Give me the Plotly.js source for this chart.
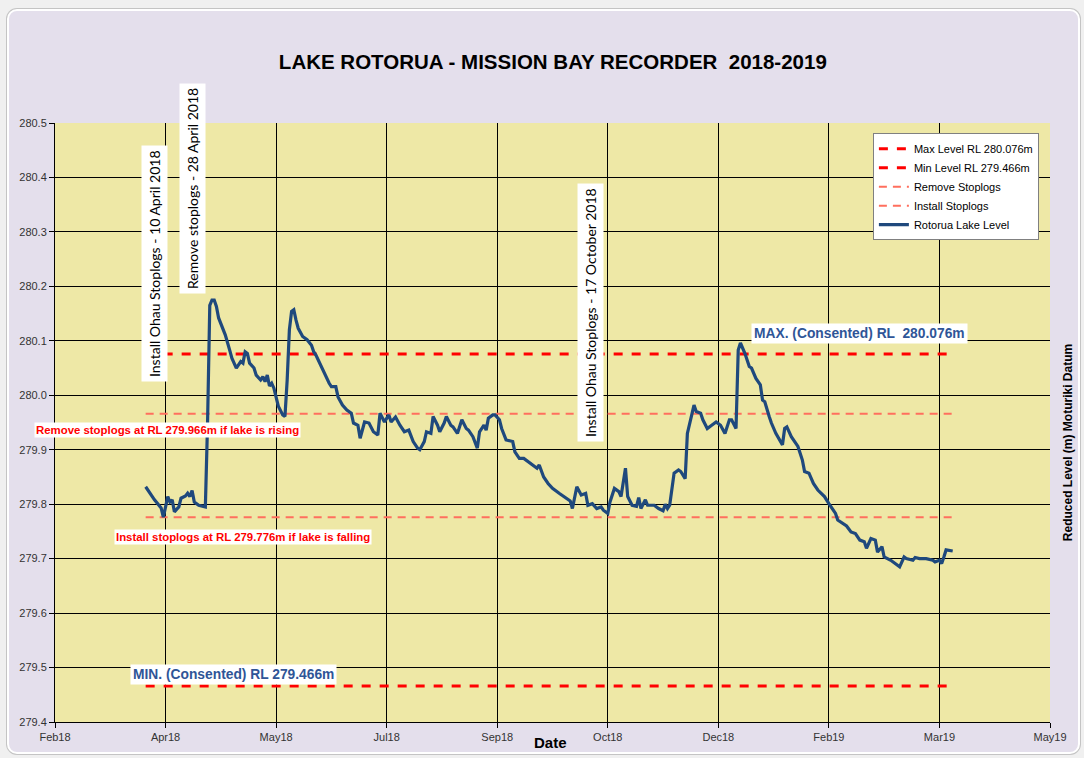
<!DOCTYPE html>
<html><head><meta charset="utf-8">
<script src="https://cdn.plot.ly/plotly-3.0.1.min.js"></script>
<style>
html,body{margin:0;padding:0;background:#F0F0F0;width:1084px;height:758px;overflow:hidden;}
#frame{position:absolute;left:7px;top:9px;width:1069px;height:741px;background:#E4DFEC;border:2px solid #FFFFFF;border-radius:10px;box-shadow:0 0 0 1px #C4C4C4;}
#chart{position:absolute;left:0;top:0;width:1084px;height:758px;}
</style></head><body>
<div id="frame"></div><div id="chart"></div>
<script>
// ---- data ----
const dates = [
'2018-04-02','2018-04-05','2018-04-06','2018-04-09','2018-04-10','2018-04-12','2018-04-13','2018-04-14','2018-04-15','2018-04-17',
'2018-04-18','2018-04-20','2018-04-21','2018-04-22','2018-04-23','2018-04-24','2018-04-26','2018-04-29','2018-04-30','2018-05-01',
'2018-05-02','2018-05-03','2018-05-04','2018-05-05','2018-05-07','2018-05-08','2018-05-10','2018-05-11','2018-05-13','2018-05-14',
'2018-05-15','2018-05-16','2018-05-17','2018-05-18','2018-05-19','2018-05-21','2018-05-22','2018-05-24','2018-05-25','2018-05-26',
'2018-05-27','2018-05-28','2018-05-29','2018-05-30','2018-05-31','2018-06-01','2018-06-03','2018-06-04','2018-06-05','2018-06-06',
'2018-06-07','2018-06-08','2018-06-09','2018-06-10','2018-06-12','2018-06-14','2018-06-16','2018-06-17','2018-06-18','2018-06-19',
'2018-06-22','2018-06-24','2018-06-25','2018-06-27','2018-06-28','2018-06-30','2018-07-02','2018-07-04','2018-07-05','2018-07-07',
'2018-07-08','2018-07-10','2018-07-12','2018-07-14','2018-07-16','2018-07-17','2018-07-19','2018-07-21','2018-07-22','2018-07-24',
'2018-07-26','2018-07-28','2018-07-30','2018-08-01','2018-08-03','2018-08-04','2018-08-06','2018-08-07','2018-08-09','2018-08-10',
'2018-08-12','2018-08-13','2018-08-15','2018-08-16','2018-08-18','2018-08-19','2018-08-21','2018-08-22','2018-08-23','2018-08-25',
'2018-08-26','2018-08-28','2018-08-30','2018-08-31','2018-09-02','2018-09-03','2018-09-04','2018-09-06','2018-09-07','2018-09-09',
'2018-09-10','2018-09-12','2018-09-15','2018-09-16','2018-09-18','2018-09-20','2018-09-22','2018-09-24','2018-09-26','2018-09-27',
'2018-09-29','2018-10-01','2018-10-03','2018-10-06','2018-10-09','2018-10-11','2018-10-12','2018-10-14','2018-10-16','2018-10-18',
'2018-10-19','2018-10-21','2018-10-23','2018-10-25','2018-10-26','2018-10-28','2018-10-29','2018-10-31','2018-11-02','2018-11-03',
'2018-11-05','2018-11-06','2018-11-08','2018-11-10','2018-11-11','2018-11-12','2018-11-14','2018-11-15','2018-11-18','2018-11-20',
'2018-11-22','2018-11-23','2018-11-24','2018-11-25','2018-11-27','2018-11-29','2018-11-30','2018-12-02','2018-12-03','2018-12-05',
'2018-12-06','2018-12-07','2018-12-09','2018-12-10','2018-12-12','2018-12-14','2018-12-16','2018-12-18','2018-12-20','2018-12-22',
'2018-12-23','2018-12-25','2018-12-26','2018-12-27','2018-12-29','2018-12-31','2019-01-01','2019-01-03','2019-01-05','2019-01-06',
'2019-01-07','2019-01-09','2019-01-10','2019-01-12','2019-01-15','2019-01-16','2019-01-17','2019-01-19','2019-01-21','2019-01-22',
'2019-01-24','2019-01-25','2019-01-27','2019-01-29','2019-01-31','2019-02-02','2019-02-03','2019-02-05','2019-02-06','2019-02-08',
'2019-02-09','2019-02-11','2019-02-13','2019-02-15','2019-02-17','2019-02-19','2019-02-21','2019-02-22','2019-02-24','2019-02-26',
'2019-02-27','2019-03-01','2019-03-02','2019-03-05','2019-03-06','2019-03-09','2019-03-11','2019-03-12','2019-03-15','2019-03-16',
'2019-03-18','2019-03-21','2019-03-24','2019-03-25','2019-03-27','2019-03-28','2019-03-29','2019-03-30','2019-04-02'
];
const levels = [
279.832,279.814,279.808,279.793,279.776,279.814,279.804,279.808,279.786,279.795,
279.811,279.815,279.820,279.814,279.825,279.804,279.798,279.795,279.950,280.165,
280.175,280.175,280.163,280.142,280.120,280.111,280.083,280.068,280.050,280.056,
280.062,280.059,280.080,280.077,280.059,280.050,280.037,280.028,280.034,280.025,
280.037,280.017,280.022,280.013,279.994,279.980,279.964,279.961,280.028,280.120,
280.154,280.157,280.138,280.123,280.108,280.102,280.092,280.080,280.074,280.065,
280.040,280.022,280.016,280.016,279.997,279.982,279.973,279.967,279.949,279.945,
279.921,279.951,279.949,279.933,279.927,279.967,279.951,279.964,279.951,279.960,
279.945,279.933,279.936,279.915,279.903,279.900,279.915,279.933,279.930,279.961,
279.945,279.933,279.949,279.961,279.945,279.942,279.930,279.945,279.955,279.939,
279.936,279.924,279.903,279.933,279.945,279.936,279.958,279.964,279.964,279.955,
279.939,279.918,279.915,279.896,279.884,279.884,279.878,279.872,279.866,279.872,
279.850,279.838,279.829,279.820,279.811,279.806,279.792,279.832,279.817,279.820,
279.798,279.801,279.792,279.795,279.789,279.783,279.804,279.829,279.823,279.814,
279.866,279.814,279.798,279.796,279.812,279.792,279.808,279.798,279.798,279.792,
279.788,279.800,279.792,279.798,279.857,279.863,279.860,279.847,279.930,279.961,
279.982,279.970,279.967,279.955,279.939,279.945,279.951,279.945,279.930,279.955,
279.955,279.939,280.083,280.096,280.077,280.053,280.050,280.031,280.019,279.991,
279.988,279.961,279.949,279.930,279.909,279.939,279.942,279.924,279.912,279.906,
279.881,279.860,279.857,279.838,279.826,279.817,279.814,279.801,279.795,279.783,
279.771,279.765,279.760,279.749,279.746,279.734,279.731,279.719,279.737,279.734,
279.712,279.722,279.703,279.697,279.694,279.685,279.703,279.700,279.697,279.702,
279.700,279.700,279.697,279.694,279.697,279.691,279.703,279.716,279.714
];
const refStart = '2018-04-02', refEnd = '2019-04-02';
const maxLevel = 280.076, minLevel = 279.466, removeLevel = 279.966, installLevel = 279.776;
const tickDates = ['2018-02-20','2018-04-11','2018-05-31','2018-07-20','2018-09-08','2018-10-28','2018-12-17','2019-02-05','2019-03-27','2019-05-16'];
const tickLabels = ['Feb18','Apr18','May18','Jul18','Sep18','Oct18','Dec18','Feb19','Mar19','May19'];
const seriesNames = ['Max Level RL 280.076m','Min Level RL 279.466m','Remove Stoplogs','Install Stoplogs','Rotorua Lake Level'];

const NARROW = '"Liberation Sans Narrow", "Arial Narrow", "Liberation Sans", Arial, sans-serif';
const SANS = '"Liberation Sans", Arial, sans-serif';
const HUMAN = 'Lato, "Open Sans", sans-serif';

function refLine(name, y, color, width, dash) {
  return {type:'scatter', mode:'lines', x:[refStart, refEnd], y:[y, y], name:name,
          line:{color:color, width:width, dash:dash}, hoverinfo:'skip'};
}
const traces = [
  refLine(seriesNames[0], maxLevel, '#FF0000', 3, '9px,9px'),
  refLine(seriesNames[1], minLevel, '#FF0000', 3, '9px,9px'),
  refLine(seriesNames[2], removeLevel, '#FF6F5E', 2, '8px,6px'),
  refLine(seriesNames[3], installLevel, '#FF6F5E', 2, '8px,6px'),
  {type:'scatter', mode:'lines', x:dates, y:levels, name:seriesNames[4],
   line:{color:'#1F497D', width:3.2}}
];

function note(text, x, y, extra) {
  return Object.assign({xref:'paper', yref:'paper', x:x, y:y, xanchor:'center', yanchor:'middle',
                        text:text, showarrow:false}, extra);
}
function vbox(text, x, y) {
  return note(text, x, y, {textangle:-90, bgcolor:'#FFFFFF', borderpad:4,
                           font:{family:HUMAN, size:14, color:'#000000'}});
}
function redNote(text, x, y) {
  return note('<b>'+text+'</b>', x, y, {bgcolor:'#FFFFFF', borderpad:1,
                           font:{family:SANS, size:11.4, color:'#FF0000'}});
}
function blueNote(text, x, y) {
  return note('<b>'+text+'</b>', x, y, {bgcolor:'#FFFFFF', borderpad:2,
                           font:{family:SANS, size:13.8, color:'#2F5597'}});
}

const layout = {
  width:1084, height:758,
  paper_bgcolor:'rgba(0,0,0,0)', plot_bgcolor:'#EEE8A6',
  margin:{l:55, r:34, t:123, b:36},
  title:{text:'<b>LAKE ROTORUA - MISSION BAY RECORDER  2018-2019</b>', x:0.51, xanchor:'center',
         y:0.918, yanchor:'middle', font:{family:NARROW, size:20.5, color:'#000000'}},
  xaxis:{type:'date', range:[tickDates[0], tickDates[tickDates.length-1]],
         tickmode:'array', tickvals:tickDates, ticktext:tickLabels,
         showgrid:true, gridcolor:'#000000', gridwidth:1,
         showline:true, linecolor:'#000000', linewidth:1, mirror:false,
         ticks:'outside', ticklen:5, tickcolor:'#000000',
         tickfont:{family:NARROW, size:11, color:'#333333'}, zeroline:false, fixedrange:true},
  yaxis:{range:[279.4, 280.5], dtick:0.1, tick0:279.4, tickformat:'.1f',
         showgrid:true, gridcolor:'#000000', gridwidth:1,
         showline:true, linecolor:'#000000', linewidth:1,
         ticks:'outside', ticklen:5, tickcolor:'#000000',
         tickfont:{family:SANS, size:11, color:'#333333'}, zeroline:false, fixedrange:true},
  showlegend:true,
  legend:{x:0.822, y:0.983, xanchor:'left', yanchor:'top', bgcolor:'#FFFFFF',
          bordercolor:'#808080', borderwidth:1, font:{family:SANS, size:11, color:'#000000'},
          tracegroupgap:0},
  annotations:[
    vbox('Install Ohau Stoplogs - 10 April 2018', 0.0995, 0.7646),
    vbox('Remove stoplogs - 28 April 2018', 0.1377, 0.8898),
    vbox('Install Ohau Stoplogs - 17 October 2018', 0.5377, 0.6828),
    redNote('Remove stoplogs at RL 279.966m if lake is rising', 0.1126, 0.4875),
    redNote('Install stoplogs at RL 279.776m if lake is falling', 0.1894, 0.3088),
    blueNote('MAX. (Consented) RL  280.076m', 0.809, 0.6494),
    blueNote('MIN. (Consented) RL 279.466m', 0.1789, 0.0801),
    note('<b>Date</b>', 0.498, -0.0334, {font:{family:NARROW, size:15, color:'#000000'}}),
    note('<b>Reduced Level (m) Moturiki Datum</b>', 1.018, 0.467,
         {textangle:-90, font:{family:SANS, size:12, color:'#000000'}})
  ]
};
Plotly.newPlot('chart', traces, layout, {displayModeBar:false, staticPlot:true});
</script></body></html>
